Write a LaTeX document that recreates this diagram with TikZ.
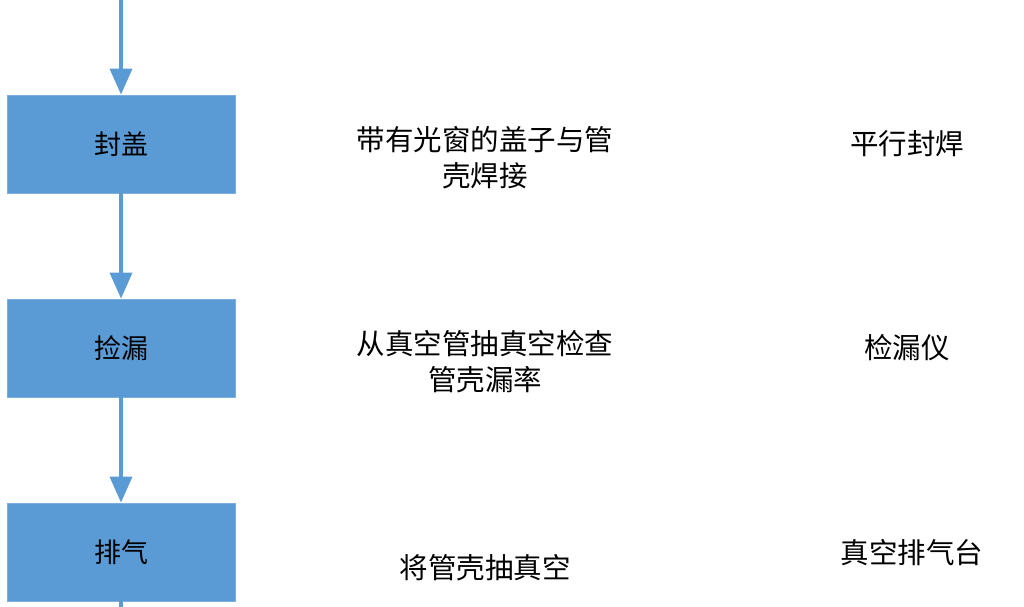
\documentclass[tikz,border=0pt]{standalone}
\usepackage{fontspec}
\usetikzlibrary{arrows.meta}
\newfontfamily\cjk{Noto Sans CJK SC}
\definecolor{boxblue}{HTML}{5B9BD5}
\begin{document}
\begin{tikzpicture}[x=1pt,y=-1pt,
  stepbox/.style={fill=boxblue,draw=boxblue!80!white,line width=0.8pt,minimum width=228pt,minimum height=98pt,inner sep=0pt,font=\cjk\fontsize{27}{30}\selectfont},
  desc/.style={font=\cjk\fontsize{28.5}{36}\selectfont,align=center,inner sep=0pt},
  flow/.style={draw=boxblue,line width=3.5pt,-{Triangle[length=26pt,width=22pt]}},
  flowplain/.style={draw=boxblue,line width=3.5pt}]
\useasboundingbox (0,0) rectangle (1024,606);
\clip (0,0) rectangle (1024,606);
\node[stepbox] (b1) at (121,144) {封盖};
\node[stepbox] (b2) at (121,348) {捡漏};
\node[stepbox] (b3) at (121,552) {排气};
\coordinate (top) at (121,-20);
\coordinate (bot) at (121,640);
\draw[flow] (top) -- (b1.north);
\draw[flow] (b1.south) -- (b2.north);
\draw[flow] (b2.south) -- (b3.north);
\draw[flowplain] (b3.south) -- (bot);
\node[desc] (d0) at (485,-14) {进行焊接};
\node[desc] (d1) at (485,158) {带有光窗的盖子与管\\壳焊接};
\node[desc] (d2) at (485,362) {从真空管抽真空检查\\管壳漏率};
\node[desc] (d3) at (485,568) {将管壳抽真空};
\node[desc] (e1) at (907,144) {平行封焊};
\node[desc] (e2) at (907,348) {检漏仪};
\node[desc] (e3) at (912,553) {真空排气台};
\end{tikzpicture}
\end{document}
